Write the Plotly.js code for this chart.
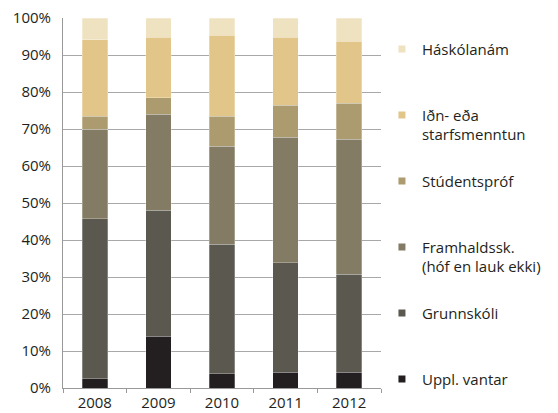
<!DOCTYPE html>
<html>
<head>
<meta charset="utf-8">
<script src="https://cdn.plot.ly/plotly-3.0.1.min.js"></script>
<style>html,body{margin:0;padding:0;background:#fff;}#chart{width:558px;height:413px;}</style>
</head>
<body>
<div id="chart"></div>
<script>
const years = ['2008', '2009', '2010', '2011', '2012'];
const upplVantar   = [2.5, 14.0, 3.8, 4.3, 4.3];
const grunnskoli   = [43.3, 34.0, 35.1, 29.5, 26.5];
const framhaldssk  = [24.2, 26.0, 26.5, 34.0, 36.4];
const studentsprof = [3.4, 4.5, 8.0, 8.6, 9.7];
const idnStarfs    = [20.7, 16.3, 21.9, 18.4, 16.8];
const haskolanam   = [5.9, 5.2, 4.7, 5.2, 6.3];
const seriesNames = ['Uppl. vantar', 'Grunnskóli', 'Framhaldssk.<br>(hóf en lauk ekki)', 'Stúdentspróf', 'Iðn- eða<br>starfsmenntun', 'Háskólanám'];
const yTickVals = [0, 10, 20, 30, 40, 50, 60, 70, 80, 90, 100];
const yTickText = ['0%', '10%', '20%', '30%', '40%', '50%', '60%', '70%', '80%', '90%', '100%'];

const seriesValues = [upplVantar, grunnskoli, framhaldssk, studentsprof, idnStarfs, haskolanam];
const colors = ['#231f20', '#5b5850', '#837b63', '#ac9b6f', '#e2c689', '#efe2c0'];

const barTraces = seriesValues.map((vals, i) => ({
  type: 'bar',
  x: years,
  y: vals,
  name: seriesNames[i],
  legendgroup: 'g' + i,
  showlegend: false,
  marker: {color: colors[i], line: {color: 'rgba(255,255,255,0.45)', width: 0.6}},
  hoverinfo: 'skip'
}));

// legend keys only (small squares like the reference)
const keyTraces = seriesValues.map((vals, i) => ({
  type: 'scatter',
  mode: 'markers',
  x: [null],
  y: [null],
  name: seriesNames[i].indexOf('<br>') >= 0 ? seriesNames[i] : seriesNames[i] + '<br>&nbsp;',
  legendgroup: 'g' + i,
  legendrank: seriesValues.length - i,
  showlegend: true,
  marker: {color: colors[i], symbol: 'square', size: 7},
  hoverinfo: 'skip'
}));

const font = {family: '"Open Sans", "Noto Sans", sans-serif', size: 15, color: '#231f20'};

const layout = {
  width: 558, height: 413,
  margin: {l: 63, r: 166, t: 18, b: 25},
  barmode: 'stack',
  bargap: 0.6,
  paper_bgcolor: '#fff', plot_bgcolor: '#fff',
  font: font,
  showlegend: true,
  legend: {
    x: 1.003, xanchor: 'left', y: 0.96, yanchor: 'top',
    traceorder: 'grouped',
    tracegroupgap: 24,
    valign: 'top',
    font: font,
    bgcolor: 'rgba(0,0,0,0)'
  },
  xaxis: {
    type: 'category',
    tickson: 'boundaries',
    ticks: 'outside', ticklen: 4, tickcolor: '#999',
    showline: true, linecolor: '#999', linewidth: 1,
    showgrid: false, zeroline: false,
    ticklabelstandoff: 1,
    tickfont: font
  },
  yaxis: {
    range: [0, 100],
    tickvals: yTickVals, ticktext: yTickText,
    showgrid: true, gridcolor: '#a8a8a8', gridwidth: 1,
    showline: true, linecolor: '#999', linewidth: 1,
    ticks: '', zeroline: false,
    ticklabelstandoff: 8,
    tickfont: font
  }
};

Plotly.newPlot('chart', barTraces.concat(keyTraces), layout, {staticPlot: true, displayModeBar: false});
</script>
</body>
</html>
